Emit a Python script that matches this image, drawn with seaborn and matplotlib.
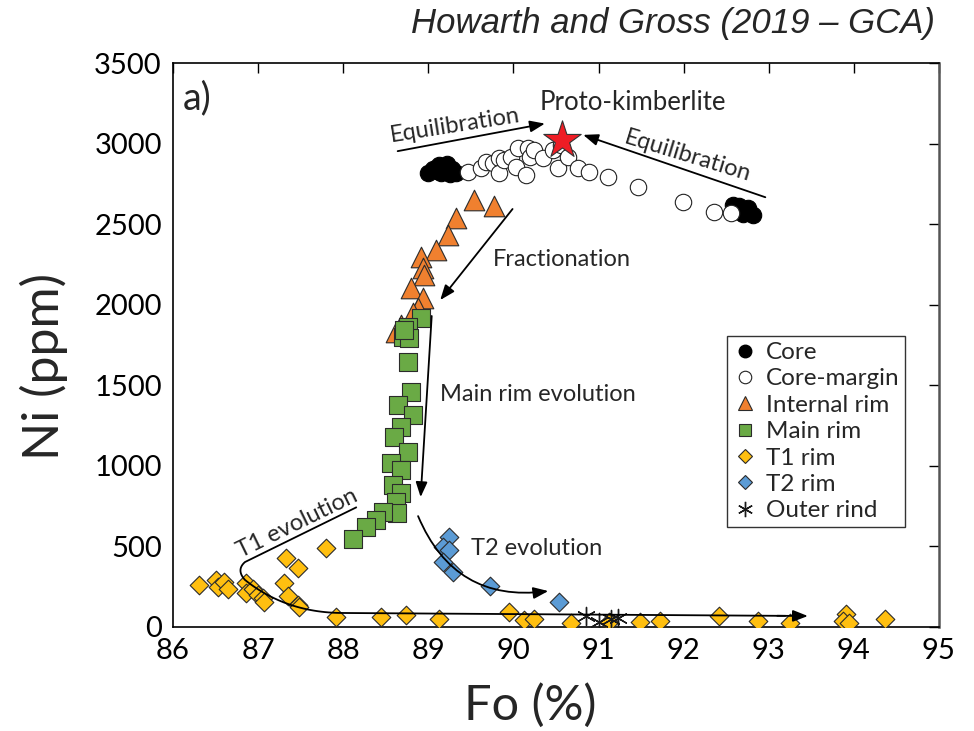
import numpy as np
import pandas as pd
import matplotlib
matplotlib.use("Agg")
import matplotlib.pyplot as plt
import seaborn as sns
from matplotlib.lines import Line2D

# ---------------- data ----------------
core_fo = [89.00, 89.05, 89.12, 89.20, 89.28, 89.33, 89.15, 89.25, 89.10, 89.22,
           92.58, 92.65, 92.72, 92.78, 92.82, 92.70, 92.62, 92.76]
core_ni = [2815, 2845, 2870, 2860, 2840, 2820, 2815, 2810, 2830, 2875,
           2620, 2610, 2590, 2570, 2555, 2560, 2580, 2600]

margin_fo = [89.47, 89.62, 89.68, 89.76, 89.83, 89.83, 89.89, 89.97, 90.03, 90.15,
             90.05, 90.17, 90.20, 90.24, 90.35, 90.46, 90.52, 90.56, 90.64, 90.76,
             90.89, 91.11, 91.46, 91.99, 92.36, 92.56]
margin_ni = [2826, 2850, 2888, 2880, 2912, 2820, 2900, 2919, 2857, 2807,
             2975, 2975, 2919, 2962, 2912, 2962, 2850, 2993, 2919, 2850,
             2826, 2794, 2732, 2639, 2577, 2571]

internal_fo = [89.54, 89.77, 89.33, 89.23, 89.09, 88.91, 88.94, 88.95, 88.80, 88.94,
               88.88, 88.82, 88.68, 88.62]
internal_ni = [2652, 2614, 2540, 2434, 2341, 2298, 2229, 2186, 2105, 2043,
               1981, 1950, 1875, 1832]

main_fo = [88.91, 88.76, 88.70, 88.77, 88.76, 88.80, 88.64, 88.82, 88.68, 88.60,
           88.76, 88.56, 88.68, 88.59, 88.68, 88.62, 88.63, 88.47, 88.39, 88.27,
           88.12, 88.72]
main_ni = [1919, 1863, 1801, 1795, 1646, 1459, 1379, 1317, 1242, 1180,
           1087, 1018, 975, 882, 832, 776, 708, 714, 664, 621,
           547, 1840]

t1_fo = [86.31, 86.51, 86.53, 86.60, 86.65, 86.86, 86.86, 86.94, 87.00, 87.06,
         87.07, 87.33, 87.47, 87.30, 87.35, 87.47, 87.48, 87.80, 87.92, 88.44,
         88.74, 89.13, 89.95, 90.12, 90.24, 90.68, 91.12, 91.49, 91.72, 92.42,
         92.87, 93.25, 93.91, 93.87, 93.94, 94.37]
t1_ni = [261, 292, 248, 279, 236, 273, 211, 236, 199, 180,
         155, 428, 366, 273, 192, 137, 124, 491, 62, 62,
         75, 50, 93, 43, 50, 25, 31, 31, 37, 68,
         37, 25, 81, 37, 25, 50]

t2_fo = [89.24, 89.17, 89.24, 89.17, 89.29, 89.73, 90.54]
t2_ni = [559, 497, 478, 404, 342, 255, 155]

rind_fo = [90.85, 91.00, 91.15, 91.23]
rind_ni = [68, 31, 50, 56]

proto_fo = [90.57]
proto_ni = [3020]

x_ticks = [86, 87, 88, 89, 90, 91, 92, 93, 94, 95]
y_ticks = [0, 500, 1000, 1500, 2000, 2500, 3000, 3500]

# ---------------- style ----------------
sns.set_style("white")
plt.rcParams['font.family'] = ['Lato', 'DejaVu Sans']

fig = plt.figure(figsize=(9.74, 7.31), dpi=100)
ax = fig.add_axes([0.1776, 0.1423, 0.7864, 0.7715])

EDGE = '#2b2b2b'

def scat(fo, ni, marker, face, size, edge=EDGE, lw=0.8, z=3):
    df = pd.DataFrame({'Fo': fo, 'Ni': ni})
    sns.scatterplot(data=df, x='Fo', y='Ni', marker=marker, color=face, s=size,
                    edgecolor=edge, linewidth=lw, ax=ax, legend=False, zorder=z)

scat(core_fo, core_ni, 'o', 'black', 140, edge='black', z=3)
scat(margin_fo, margin_ni, 'o', 'white', 140, edge='#222222', z=4)
scat(internal_fo, internal_ni, '^', '#F0802F', 220, z=5)
scat(main_fo, main_ni, 's', '#6AAA45', 165, z=6)
scat(t1_fo, t1_ni, 'D', '#FFBF10', 90, z=7)
scat(t2_fo, t2_ni, 'D', '#5B9BD5', 90, z=7)
# outer rind (line-art marker)
df_r = pd.DataFrame({'Fo': rind_fo, 'Ni': rind_ni})
sns.scatterplot(data=df_r, x='Fo', y='Ni', marker=(6, 2, 0), color='#1a1a1a', s=170,
                linewidth=1.0, ax=ax, legend=False, zorder=8)
scat(proto_fo, proto_ni, '*', '#EE1D25', 800, edge='#333333', lw=0.8, z=9)

# ---------------- annotations ----------------
akw = dict(arrowstyle='-|>,head_length=0.9,head_width=0.35', color='black', lw=1.3,
           shrinkA=0, shrinkB=0)
TXT = 17

ax.annotate('', xy=(90.37, 3124), xytext=(88.64, 2953), arrowprops=akw, zorder=10)
ax.text(89.31, 3110, 'Equilibration', fontsize=TXT, rotation=9, ha='center', va='center')
ax.annotate('', xy=(90.82, 3054), xytext=(92.96, 2667), arrowprops=akw, zorder=10)
ax.text(92.05, 2925, 'Equilibration', fontsize=TXT, rotation=-17, ha='center', va='center')
ax.text(91.40, 3252, 'Proto-kimberlite', fontsize=18.5, ha='center', va='center')

ax.annotate('', xy=(89.14, 2029), xytext=(89.99, 2594), arrowprops=akw, zorder=10)
ax.text(89.76, 2283, 'Fractionation', fontsize=TXT, ha='left', va='center')

ax.annotate('', xy=(88.91, 806), xytext=(89.04, 1930), arrowprops=akw, zorder=10)
ax.text(89.14, 1440, 'Main rim evolution', fontsize=TXT, ha='left', va='center')

ax.annotate('', xy=(90.41, 223), xytext=(88.88, 688),
            arrowprops=dict(akw, connectionstyle='arc3,rad=0.38'), zorder=10)
ax.text(89.50, 484, 'T2 evolution', fontsize=TXT, ha='left', va='center')


def qbez(p0, p1, p2, n=30):
    t = np.linspace(0, 1, n)[:, None]
    p0, p1, p2 = map(np.asarray, (p0, p1, p2))
    return (1 - t) ** 2 * p0 + 2 * (1 - t) * t * p1 + t ** 2 * p2

seg1 = np.array([[88.16, 744], [86.846, 403]])
seg2 = qbez((86.846, 403), (86.74, 354), (86.846, 292))
seg3 = qbez((86.846, 292), (87.316, 93), (87.962, 87))
seg4 = np.array([[87.962, 87], [93.2, 69]])
path = np.vstack([seg1, seg2, seg3, seg4])
ax.plot(path[:, 0], path[:, 1], color='black', lw=1.3, zorder=10, solid_capstyle='butt')
ax.annotate('', xy=(93.46, 68), xytext=(93.1, 69.5), arrowprops=akw, zorder=10)
ax.text(87.46, 645, 'T1 evolution', fontsize=TXT, rotation=26, ha='center', va='center')

ax.text(86.12, 3282, 'a)', fontsize=27, ha='left', va='center')

# ---------------- axes ----------------
ax.set_xlim(86, 95)
ax.set_ylim(0, 3500)
ax.set_xticks(x_ticks)
ax.set_yticks(y_ticks)
ax.tick_params(direction='in', length=7, width=1.0, top=True, right=True,
               labelsize=21, pad=8, colors='black')
ax.set_xlabel('Fo (%)', fontsize=35)
ax.set_ylabel('Ni (ppm)', fontsize=36)
ax.xaxis.set_label_coords(0.467, -0.100)
ax.yaxis.set_label_coords(-0.137, 0.461)
for s in ax.spines.values():
    s.set_color('black')
    s.set_linewidth(1.2)
ax.spines['right'].set_color('#555555')
ax.spines['right'].set_linewidth(1.8)

fig.text(0.960, 0.968, 'Howarth and Gross (2019 \u2013 GCA)', fontsize=25, style='italic',
         ha='right', va='center', family=['Liberation Sans', 'DejaVu Sans'])

# ---------------- legend ----------------
handles = [
    Line2D([], [], ls='none', marker='o', mfc='black', mec='black', ms=9),
    Line2D([], [], ls='none', marker='o', mfc='white', mec='#222222', ms=9, mew=0.8),
    Line2D([], [], ls='none', marker='^', mfc='#F0802F', mec=EDGE, ms=10, mew=0.8),
    Line2D([], [], ls='none', marker='s', mfc='#6AAA45', mec=EDGE, ms=9, mew=0.8),
    Line2D([], [], ls='none', marker='D', mfc='#FFBF10', mec=EDGE, ms=7.5, mew=0.8),
    Line2D([], [], ls='none', marker='D', mfc='#5B9BD5', mec=EDGE, ms=7.5, mew=0.8),
    Line2D([], [], ls='none', marker=(6, 2, 0), color='#1a1a1a', ms=11, mew=1.0),
]
labels = ['Core', 'Core-margin', 'Internal rim', 'Main rim', 'T1 rim', 'T2 rim', 'Outer rind']
leg = ax.legend(handles, labels, loc='upper left', bbox_to_anchor=(0.723, 0.516),
                frameon=True, fancybox=False, edgecolor='black', fontsize=17.5,
                handletextpad=0.35, labelspacing=0.22, borderpad=0.25,
                handlelength=1.0, borderaxespad=0)
leg.get_frame().set_linewidth(1.0)

fig.savefig('out.png', dpi=100)
